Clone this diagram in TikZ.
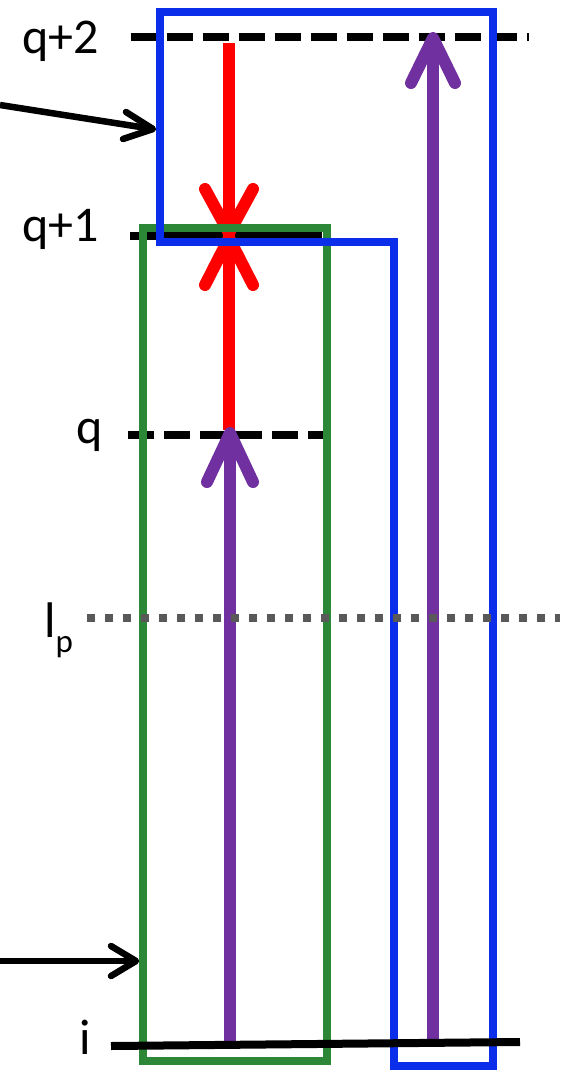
\documentclass[tikz,border=0pt]{standalone}
\usepackage{fontspec}
\setmainfont{Carlito}
\usetikzlibrary{calc}
\definecolor{bblue}{RGB}{10,46,234}
\definecolor{ggreen}{RGB}{44,136,54}
\definecolor{ppurple}{RGB}{112,48,160}
\definecolor{rred}{RGB}{255,0,0}
\definecolor{dgray}{RGB}{89,89,89}
\begin{document}
\begin{tikzpicture}[x=1pt,y=-1pt,
  lbl/.style={anchor=base west, inner sep=0pt, font=\fontsize{50}{60}\selectfont},
  levelline/.style={line width=8pt, black},
  dashlevel/.style={levelline, dash pattern=on 26pt off 10pt},
  dotlevel/.style={line width=8pt, dgray, dash pattern=on 8pt off 10pt},
  greenbox/.style={draw=ggreen, line width=8pt},
  bluebox/.style={draw=bblue, line width=8pt, line join=miter},
  redline/.style={draw=rred, line width=12pt},
  redhead/.style={draw=rred, line width=12pt, line cap=round, line join=round},
  purpline/.style={draw=ppurple, line width=12pt},
  purphead/.style={draw=ppurple, line width=12pt, line cap=round, line join=round},
  blkline/.style={draw=black, line width=6.5pt},
  blkhead/.style={draw=black, line width=6.5pt, line cap=round, line join=round}]
\useasboundingbox (0,0) rectangle (560,1071);

% labels
\node[lbl] (lq2) at (22,53) {q+2};
\node[lbl] (lq1) at (22,241) {q+1};
\node[lbl] (lq) at (76,443) {q};
\node[lbl] (llp) at (44,637) {l\raisebox{-15pt}{\fontsize{33}{36}\selectfont p}};
\node[lbl] (li) at (79,1054) {i};

% level coordinates
\coordinate (q2a) at (131,37);   \coordinate (q2b) at (529,37);
\coordinate (q1a) at (130,236);  \coordinate (q1b) at (322,236);
\coordinate (qa) at (128,435);   \coordinate (qb) at (323,435);
\coordinate (lpa) at (87,617.5); \coordinate (lpb) at (560,617.5);
\coordinate (ia) at (111,1046);  \coordinate (ib) at (520,1042);

\draw[dashlevel] (q2a) -- (q2b);
\draw[levelline] (q1a) -- (q1b);
\draw[dashlevel] (qa) -- (qb);

% red double arrow
\coordinate (rtop) at (229,43);
\coordinate (rbot) at (229,430);
\coordinate (rdown) at (229,233);
\coordinate (rup) at (229,238);
\draw[redline] (rtop) -- (rbot);
\draw[redhead] ($(rdown)+(-24,-44)$) -- (rdown) -- ($(rdown)+(24,-44)$);
\draw[redhead] ($(rup)+(-24,47)$) -- (rup) -- ($(rup)+(24,47)$);

% green box
\draw[greenbox] (143,228) rectangle (327,1061);

% blue box
\draw[bluebox] (160,11.5) -- (493,11.5) -- (493,1066) -- (394,1066) -- (394,242) -- (160,242) -- cycle;

% purple arrows
\coordinate (p1s) at (230,1044);
\coordinate (p1t) at (230,433);
\draw[purpline] (p1s) -- ($(p1t)+(0,4)$);
\draw[purphead] ($(p1t)+(-23,49)$) -- (p1t) -- ($(p1t)+(23,49)$);

\coordinate (p2s) at (433,1042);
\coordinate (p2t) at (433,38);
\draw[purpline] (p2s) -- ($(p2t)+(0,4)$);
\draw[purphead] ($(p2t)+(-22,45)$) -- (p2t) -- ($(p2t)+(22,45)$);

% black arrows
\coordinate (a1s) at (0,105);
\coordinate (a1t) at (153,129);
\draw[blkline] (a1s) -- (a1t);
\draw[blkhead] ($(a1t)+(-27,-17)$) -- (a1t) -- ($(a1t)+(-30,10)$);

\coordinate (a2s) at (0,961);
\coordinate (a2t) at (136,961);
\draw[blkline] (a2s) -- (a2t);
\draw[blkhead] ($(a2t)+(-25,-15)$) -- (a2t) -- ($(a2t)+(-25,15)$);

% i level and l_p level on top
\draw[levelline] (ia) -- (ib);
\draw[dotlevel] (lpa) -- (lpb);
\end{tikzpicture}
\end{document}
